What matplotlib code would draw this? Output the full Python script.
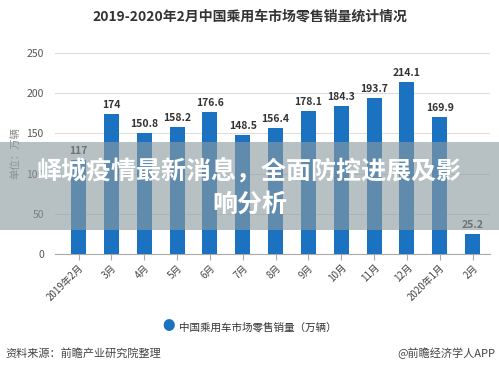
import matplotlib.pyplot as plt
from matplotlib.patches import Rectangle

plt.rcParams['font.family'] = ['Noto Sans CJK SC', 'DejaVu Sans']

months = ['2019年2月', '3月', '4月', '5月', '6月', '7月', '8月', '9月',
          '10月', '11月', '12月', '2020年1月', '2月']
sales = [117, 174, 150.8, 158.2, 176.6, 148.5, 156.4, 178.1,
         184.3, 193.7, 214.1, 169.9, 25.2]
yticks = [0, 50, 100, 150, 200, 250]

fig = plt.figure(figsize=(4.99, 3.72), dpi=100)
ax = fig.add_axes([0.110, 0.317, 0.872, 0.541])

blue = '#1b72c0'
x = list(range(len(months)))
ax.bar(x, sales, width=0.46, color=blue, zorder=3)
for xi, v in zip(x, sales):
    ax.text(xi, v + 5, f'{v:g}', ha='center', va='bottom', fontsize=7.5,
            fontweight='bold', color='#333333', zorder=4)

ax.set_xlim(-0.72, 12.53)
ax.set_ylim(0, 250)
ax.set_yticks(yticks)
ax.yaxis.grid(True, color='#dddddd', linewidth=0.8, zorder=0)
ax.tick_params(axis='y', length=0, labelsize=7.5, labelcolor='#555555', pad=8)
ax.set_xticks(x)
ax.set_xticklabels(months, rotation=45, ha='right', rotation_mode='anchor',
                   fontsize=7, color='#444444')
ax.tick_params(axis='x', length=4, color='#aaaaaa', pad=2)
for s in ['left', 'right', 'top']:
    ax.spines[s].set_visible(False)
ax.spines['bottom'].set_color('#aaaaaa')
ax.set_ylabel('单位：万辆', fontsize=7.5, color='#888888', labelpad=4)

fig.text(0.5, 0.955, '2019-2020年2月中国乘用车市场零售销量统计情况', ha='center',
         va='center', fontsize=10, fontweight='bold', color='#333333')

# legend
fig.text(0.337, 0.121, '●', ha='center', va='center', fontsize=9, color=blue)
fig.text(0.359, 0.121, '中国乘用车市场零售销量（万辆）', ha='left', va='center',
         fontsize=7.6, color='#333333')

fig.text(0.010, 0.051, '资料来源：前瞻产业研究院整理', ha='left', va='center',
         fontsize=8, color='#444444')
fig.text(0.993, 0.051, '@前瞻经济学人APP', ha='right', va='center',
         fontsize=8, color='#444444')

# overlay banner
fig.patches.append(Rectangle((0, 1 - 230 / 372), 1, 88 / 372, transform=fig.transFigure,
                             facecolor=(0.55, 0.61, 0.63), alpha=0.62, zorder=10))
fig.text(0.5, 1 - 172 / 372, '峄城疫情最新消息，全面防控进展及影', ha='center', va='center',
         fontsize=18, fontweight='bold', color='white', zorder=11)
fig.text(0.5, 1 - 205 / 372, '响分析', ha='center', va='center',
         fontsize=18, fontweight='bold', color='white', zorder=11)

fig.savefig('out.png', dpi=100)
